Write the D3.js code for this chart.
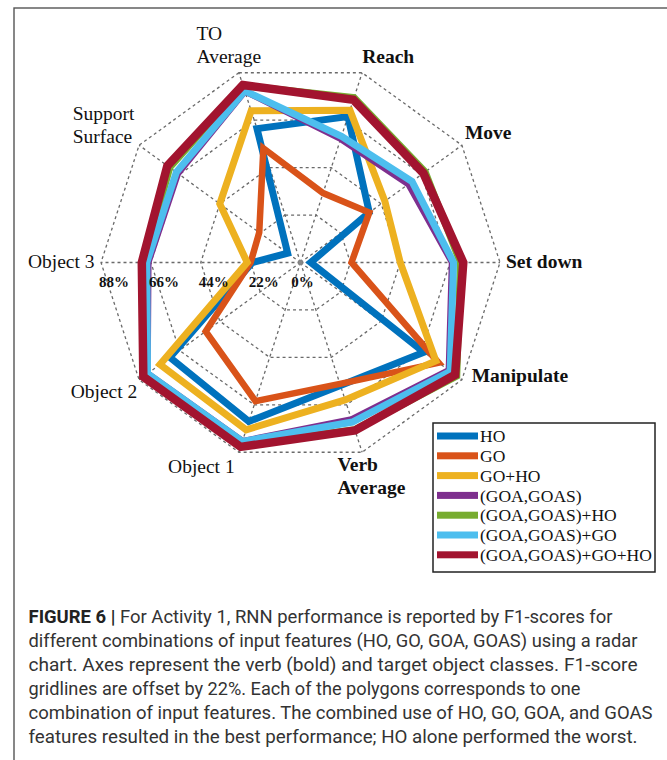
<!DOCTYPE html>
<html>
<head>
<meta charset="utf-8">
<script src="https://cdn.jsdelivr.net/npm/d3@7"></script>
<style>
  html, body { margin: 0; padding: 0; background: #fff; }
  svg { display: block; }
</style>
</head>
<body>
<svg id="fig" width="667" height="760"></svg>
<script>
// Radar axes, clockwise starting from "TO Average"
const axes = ["TO Average", "Reach", "Move", "Set down", "Manipulate",
              "Verb Average", "Object 1", "Object 2", "Object 3", "Support Surface"];
const axisLabelLines = [["TO", "Average"], ["Reach"], ["Move"], ["Set down"], ["Manipulate"],
                        ["Verb", "Average"], ["Object 1"], ["Object 2"], ["Object 3"], ["Support", "Surface"]];
const verbAxes = ["Reach", "Move", "Set down", "Manipulate", "Verb Average"];

// F1-scores (%) per axis for each feature combination
const seriesNames = ["HO", "GO", "GO+HO", "(GOA,GOAS)", "(GOA,GOAS)+HO", "(GOA,GOAS)+GO", "(GOA,GOAS)+GO+HO"];
const ho          = [62.1, 67.7, 37.5,  4.5, 67.3, 57.0, 73.7, 71.2, 21.2,  7.0];
const go          = [53.0, 32.2, 37.5, 22.5, 75.3, 56.3, 64.3, 51.7, 22.0, 22.5];
const goHo        = [70.4, 70.6, 46.0, 44.0, 73.8, 63.7, 77.6, 76.6, 23.5, 44.0];
const goaGoas     = [79.0, 57.0, 58.5, 66.5, 80.5, 72.5, 82.5, 83.0, 66.8, 66.5];
const goaGoasHo   = [82.0, 76.5, 68.0, 70.5, 85.2, 77.5, 84.5, 84.8, 69.0, 71.3];
const goaGoasGo   = [79.6, 58.5, 60.8, 67.5, 81.6, 74.0, 83.0, 83.4, 67.8, 67.7];
const goaGoasGoHo = [82.3, 75.5, 67.0, 71.8, 84.3, 77.9, 85.5, 85.7, 70.0, 72.6];

// Gridline levels and their labels
const gridTicks  = [0, 22, 44, 66, 88];
const tickLabels = ["0%", "22%", "44%", "66%", "88%"];

const captionBold = "FIGURE 6 |";
const captionLines = [
  " For Activity 1, RNN performance is reported by F1-scores for",
  "different combinations of input features (HO, GO, GOA, GOAS) using a radar",
  "chart. Axes represent the verb (bold) and target object classes. F1-score",
  "gridlines are offset by 22%. Each of the polygons corresponds to one",
  "combination of input features. The combined use of HO, GO, GOA, and GOAS",
  "features resulted in the best performance; HO alone performed the worst."
];

// ---- styling ----
const palette = ["#0072BD", "#D95319", "#EDB120", "#7E2F8E", "#77AC30", "#4DBEEE", "#A2142F"];
const strokeWidths = [7, 6.5, 7, 5, 7, 7, 8.5];
const serif = "'Liberation Serif', 'Times New Roman', Times, serif";
const sans = "Roboto, 'Liberation Sans', Arial, sans-serif";

const seriesValues = [ho, go, goHo, goaGoas, goaGoasHo, goaGoasGo, goaGoasGoHo];
const series = seriesNames.map((name, i) => ({ name, values: seriesValues[i], color: palette[i], width: strokeWidths[i] }));

const svg = d3.select("#fig");
svg.append("rect").attr("width", 667).attr("height", 760).attr("fill", "#fff");

// figure frame
svg.append("rect")
  .attr("x", 14).attr("y", 8).attr("width", 720).attr("height", 800)
  .attr("fill", "none").attr("stroke", "#555").attr("stroke-width", 1.4);

const cx = 300.5, cy = 262.5, R = 199.5;
const rScale = d3.scaleLinear().domain([0, 88]).range([0, R]);
const angle = d3.scaleLinear().domain([0, axes.length]).range([-Math.PI / 10, 2 * Math.PI - Math.PI / 10]);

const chart = svg.append("g").attr("transform", `translate(${cx},${cy})`);

const radar = d3.lineRadial()
  .angle((d, i) => angle(i))
  .radius(d => rScale(d))
  .curve(d3.curveLinearClosed);

// gridline rings
const grid = chart.append("g").attr("fill", "none").attr("stroke", "#6a6a6a")
  .attr("stroke-width", 1.3).attr("stroke-dasharray", "3,3");
gridTicks.filter(t => t > 0).forEach(t => {
  grid.append("path").attr("d", radar(axes.map(() => t)));
});
// spokes
axes.forEach((a, i) => {
  const [x, y] = d3.pointRadial(angle(i), rScale(88));
  grid.append("line").attr("x1", 0).attr("y1", 0).attr("x2", x).attr("y2", y);
});
chart.append("circle").attr("r", 2.2).attr("fill", "#888");

// series polygons
chart.append("g").selectAll("path")
  .data(series)
  .join("path")
  .attr("d", d => radar(d.values))
  .attr("fill", "none")
  .attr("stroke", d => d.color)
  .attr("stroke-width", d => d.width)
  .attr("stroke-linejoin", "miter")
  .attr("stroke-miterlimit", 10);

// tick labels along the Object 3 axis
const objIdx = axes.indexOf("Object 3");
gridTicks.forEach((t, k) => {
  const [x, y] = d3.pointRadial(angle(objIdx), rScale(t));
  chart.append("text")
    .attr("x", t === 0 ? x + 2 : x - 2)
    .attr("y", y + 24.8)
    .attr("text-anchor", t === 0 ? "middle" : "start")
    .attr("font-family", serif).attr("font-weight", "bold").attr("font-size", 15)
    .attr("fill", "#111")
    .text(tickLabels[k]);
});

// axis labels, placed around each outer vertex
const labelPlacement = {
  "TO Average":      { anchor: "start", dx: -42.3, dy: -32.8 },
  "Reach":           { anchor: "start", dx: 0,     dy: -9.3 },
  "Move":            { anchor: "start", dx: 3,     dy: -6.2 },
  "Set down":        { anchor: "start", dx: 6,     dy: 5.8 },
  "Manipulate":      { anchor: "start", dx: 9.8,   dy: 2.5 },
  "Verb Average":    { anchor: "start", dx: -24.7, dy: 18.5 },
  "Object 1":        { anchor: "end",   dx: -4.2,  dy: 21 },
  "Object 2":        { anchor: "end",   dx: -1.8,  dy: 18.5 },
  "Object 3":        { anchor: "end",   dx: -6.5,  dy: 5.8 },
  "Support Surface": { anchor: "start", dx: -66.4, dy: -25.2 }
};
axes.forEach((a, i) => {
  const [x, y] = d3.pointRadial(angle(i), rScale(88));
  const p = labelPlacement[a];
  const txt = chart.append("text")
    .attr("text-anchor", p.anchor)
    .attr("font-family", serif).attr("font-size", 19.5)
    .attr("font-weight", verbAxes.includes(a) ? "bold" : "normal")
    .attr("fill", "#111");
  axisLabelLines[i].forEach((line, j) => {
    txt.append("tspan").attr("x", x + p.dx).attr("y", y + p.dy + j * 23).text(line);
  });
});

// legend
const legend = svg.append("g").attr("transform", "translate(433,423)");
legend.append("rect").attr("width", 222).attr("height", 149)
  .attr("fill", "#fff").attr("stroke", "#222").attr("stroke-width", 1.5);
series.forEach((s, i) => {
  const ry = 13 + i * 19.8;
  legend.append("rect").attr("x", 4).attr("y", ry - 3.5).attr("width", 41).attr("height", 7).attr("fill", s.color);
  legend.append("text").attr("x", 47).attr("y", ry + 6.2)
    .attr("font-family", serif).attr("font-size", 17.5).attr("fill", "#111")
    .text(s.name);
});

// caption
const captionWidths = [584, 609, 609, 552, 624, 609];
captionLines.forEach((line, i) => {
  const t = svg.append("text")
    .attr("x", 28.5).attr("y", 623 + i * 24)
    .attr("font-family", sans).attr("font-size", 17.5).attr("fill", "#333")
    .attr("textLength", captionWidths[i]).attr("lengthAdjust", "spacingAndGlyphs");
  if (i === 0) {
    t.append("tspan").attr("font-weight", "bold").attr("fill", "#222").text(captionBold);
  }
  t.append("tspan").text(line);
});
</script>
</body>
</html>
